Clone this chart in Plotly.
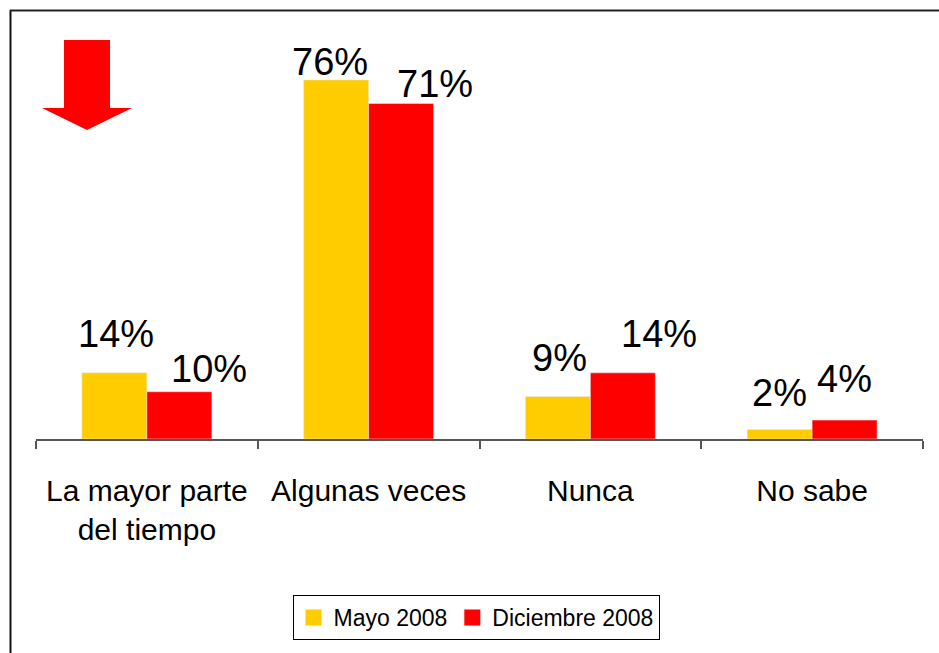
import plotly.graph_objects as go

# ---- data ----
categories = ["La mayor parte<br>del tiempo", "Algunas veces", "Nunca", "No sabe"]
series_names = ["Mayo 2008", "Diciembre 2008"]
mayo_2008 = [14, 76, 9, 2]
diciembre_2008 = [10, 71, 14, 4]
mayo_labels = ["14%", "76%", "9%", "2%"]
diciembre_labels = ["10%", "71%", "14%", "4%"]

# ---- style ----
W, H = 939, 653
ML, MR, MT, MB = 36, 16, 61, 214
PW, PH = W - ML - MR, H - MT - MB
FONT = "Liberation Sans, Arial, sans-serif"
YELLOW, RED = "#FFCC00", "#FF0000"
mayo_dx = [-31, -39, -31, -33]
mayo_dy = [16, -5, 15, 14]
dic_dx = [62, 66, 69, 32]
dic_dy = [0, -3, 16, 18]


def px(xp):
    return (xp - ML) / PW


def py(yp):
    return (H - MB - yp) / PH


fig = go.Figure()
fig.add_trace(go.Bar(x=categories, y=mayo_2008, marker_color=YELLOW, name=series_names[0],
                     showlegend=False, hoverinfo="skip"))
fig.add_trace(go.Bar(x=categories, y=diciembre_2008, marker_color=RED, name=series_names[1],
                     showlegend=False, hoverinfo="skip"))
# legend entries
for nm, col in zip(series_names, [YELLOW, RED]):
    fig.add_trace(go.Scatter(x=[None], y=[None], mode="markers", name=nm,
                             marker=dict(symbol="square", size=16, color=col)))

annotations = []
for i, c in enumerate(categories):
    annotations.append(dict(x=c, y=mayo_2008[i], text=mayo_labels[i], xref="x", yref="y",
                            showarrow=False, yanchor="bottom", xanchor="center",
                            xshift=mayo_dx[i], yshift=mayo_dy[i],
                            font=dict(family=FONT, size=38, color="black")))
    annotations.append(dict(x=c, y=diciembre_2008[i], text=diciembre_labels[i], xref="x", yref="y",
                            showarrow=False, yanchor="bottom", xanchor="center",
                            xshift=dic_dx[i], yshift=dic_dy[i],
                            font=dict(family=FONT, size=38, color="black")))

arrow_pts = [(64, 40), (110, 40), (110, 108), (132, 108), (87, 130), (42, 108), (64, 108)]
path = "M " + " L ".join(f"{px(a):.5f},{py(b):.5f}" for a, b in arrow_pts) + " Z"

shapes = [
    dict(type="path", path=path, xref="paper", yref="paper", fillcolor="#FF0000",
         line=dict(width=0)),
    dict(type="line", xref="paper", yref="paper", x0=px(10.5), x1=px(10.5), y0=py(10), y1=py(660),
         line=dict(color="#111111", width=2)),
    dict(type="line", xref="paper", yref="paper", x0=px(10), x1=px(945), y0=py(10.5), y1=py(10.5),
         line=dict(color="#222222", width=2)),
]

fig.update_layout(
    width=W, height=H,
    margin=dict(l=ML, r=MR, t=MT, b=MB, pad=0),
    paper_bgcolor="white", plot_bgcolor="white",
    barmode="group", bargap=0.414, bargroupgap=0,
    font=dict(family=FONT, color="black"),
    showlegend=True,
    legend=dict(orientation="h", x=px(476), xanchor="center", y=py(595), yanchor="top",
                bordercolor="black", borderwidth=1, bgcolor="white",
                font=dict(family=FONT, size=23, color="black"),
                itemwidth=30, tracegroupgap=0),
    annotations=annotations,
    shapes=shapes,
    xaxis=dict(type="category", showgrid=False, showline=True, linecolor="#555555", linewidth=1.5,
               ticks="outside", tickson="boundaries", ticklen=8, tickcolor="#555555", tickwidth=1.5,
               tickangle=0, automargin=False, ticklabelstandoff=24,
               tickfont=dict(family=FONT, size=30, color="black"), range=[-0.5, 3.5]),
    yaxis=dict(range=[0, 80], visible=False, showgrid=False, zeroline=False),
)

fig.write_html("out.html", config={"displayModeBar": False},
               post_script="document.body.style.margin='0';document.body.style.overflow='hidden';")
